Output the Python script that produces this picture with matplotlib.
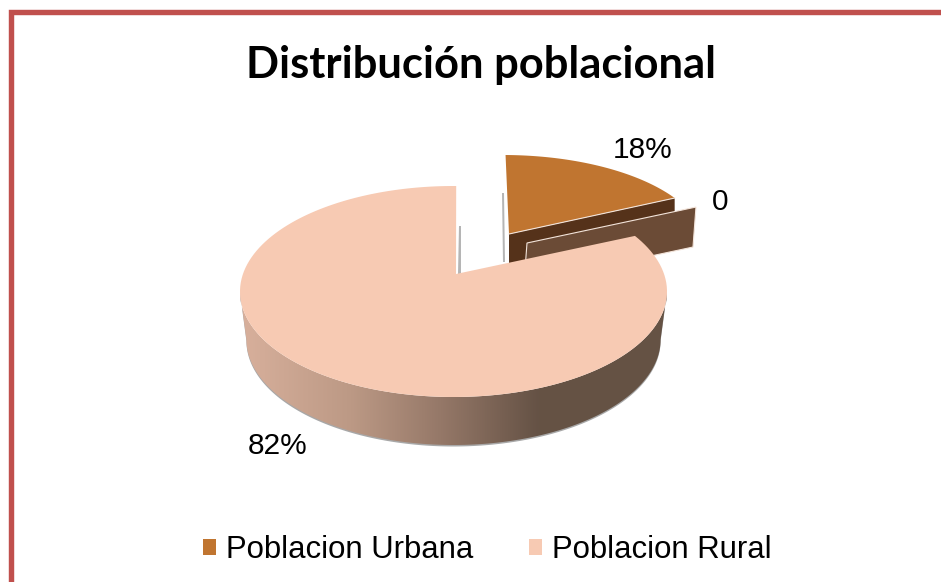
import numpy as np
import matplotlib
matplotlib.use('Agg')
import matplotlib.pyplot as plt
from matplotlib.colors import LinearSegmentedColormap
from matplotlib.patches import Patch, Polygon

title = 'Distribución poblacional'
categories = ['Poblacion Urbana', 'Poblacion Rural']
shares = [18, 82]
zero_value = 0

colors = ['#C07530', '#F7CAB3']
wall_urban = '#55321A'
wall_zero = '#6B4B36'
wall_rural = ['#D8B09C', '#BC9985', '#957868', '#655245', '#665344']
wall_stops = [0, 0.26, 0.47, 0.70, 1]

tilt_warp = 1.38   # fake perspective: front of the pie is stretched
rotation = 1       # first slice angle, clockwise from 12 o'clock
wall_h = 48


def param(a):
    # clockwise angle of the pie -> parameter on the drawn ellipse
    a = np.radians(a)
    return np.unwrap(np.arctan2(np.cos(a) * tilt_warp, np.sin(a)))


def rim(cx, cy, rx, ry, a0, a1, n=200):
    t = param(np.linspace(a0, a1, n))
    return np.column_stack([cx + rx * np.cos(t), cy - ry * np.sin(t)])


fig = plt.figure(figsize=(9.41, 5.82), dpi=100)
ax = fig.add_axes([0, 0, 1, 1])
ax.set_xlim(0, 941)
ax.set_ylim(582, 0)
ax.axis('off')

# slide border, runs off the right and the bottom
ax.plot([10.6, 10.6, 941], [582, 11.5, 11.5], color='#C0504D', lw=3.9,
        solid_joinstyle='miter', zorder=1)

angles = rotation + np.cumsum([0] + shares) * 3.6
edge = '#F3E4DA'

# urban slice, pulled out towards the top right
cx, cy, rx, ry = 503, 246, 202, 91
apex_u = np.array([509, 234])
rim_u = rim(cx, cy, rx, ry, angles[0], angles[1])
h = wall_h * 0.92
end_u = rim_u[-1]
ax.add_patch(Polygon([apex_u, end_u, end_u + [0, h], apex_u + [0, h]],
                     fc=wall_urban, ec='none', zorder=3))
ax.add_patch(Polygon([apex_u + [-5, -41], apex_u + [-4, 28], apex_u + [-6, 28], apex_u + [-7, -41]],
                     fc='#B5B5B5', ec='none', zorder=2))
ax.add_patch(Polygon(np.vstack([[apex_u], rim_u]), fc=colors[0], ec='none', zorder=4))
ax.plot(*np.array([apex_u, end_u]).T, color=edge, lw=0.8, zorder=4)

# the zero slice is only a wall, it sits on the same radius
apex_z = apex_u + [18, 9]
end_z = apex_z + (end_u - apex_u) * [1.02, 1]
ax.add_patch(Polygon([apex_z, end_z, end_z + [-3, 40], apex_z + [-3, 40]],
                     fc=wall_zero, ec=edge, lw=0.8, zorder=5))

# rural slice
cx, cy, rx, ry = 453.5, 291.5, 213.5, 105.5
apex_r = np.array([456, 274])
rim_r = rim(cx, cy, rx, ry, angles[1], angles[2])

t = np.radians(np.linspace(180, 360, 200))
front_top = np.column_stack([cx + rx * np.cos(t), cy - ry * np.sin(t)])
# lower rim is a little narrower, the wall leans in
front_bot = np.column_stack([cx + rx * 0.97 * np.cos(t), cy + wall_h - ry * np.sin(t)])
outline = np.vstack([front_top, front_bot[::-1]])

# grey shadow below the wall and along the cut
ax.add_patch(Polygon(outline + [0, 1.5], fc='#A8A8A8', ec='none', zorder=5))
ax.add_patch(Polygon([apex_r + [3, -48], apex_r + [5, -48], apex_r + [5, 0], apex_r + [2, 0]],
                     fc='#B5B5B5', ec='none', zorder=5))

cmap = LinearSegmentedColormap.from_list('wall', list(zip(wall_stops, wall_rural)))
grad = ax.imshow(np.linspace(0, 1, 256).reshape(1, -1), cmap=cmap, aspect='auto',
                 extent=[cx - rx, cx + rx, cy + ry + wall_h, cy - ry], zorder=6)
clip = Polygon(outline, transform=ax.transData, fc='none', ec='none')
ax.add_patch(clip)
grad.set_clip_path(clip)
ax.set_xlim(0, 941)
ax.set_ylim(582, 0)

ax.add_patch(Polygon(np.vstack([[apex_r], rim_r]), fc=colors[1], ec='none', zorder=7))

# texts
ax.text(481, 65, title, family='Lato', weight='bold', fontsize=31.3, ha='center', va='center', color='black')
ax.text(642.5, 149.5, f'{shares[0]}%', family='Liberation Sans', fontsize=21.5, ha='center', va='center', color='black')
ax.text(720, 202.5, f'{zero_value}', family='Liberation Sans', fontsize=21.5, ha='center', va='center', color='black')
ax.text(277.5, 446.5, f'{shares[1]}%', family='Liberation Sans', fontsize=21.5, ha='center', va='center', color='black')

handles = [Patch(fc=c, ec='none') for c in colors]
ax.legend(handles, categories, loc='center', bbox_to_anchor=(487.5 / 941, 1 - 550 / 582), ncol=2,
          frameon=False, handlelength=0.42, handleheight=0.42, handletextpad=0.32, columnspacing=1.8,
          prop={'family': 'Liberation Sans', 'size': 22.4})

fig.savefig('out.png', dpi=100)
